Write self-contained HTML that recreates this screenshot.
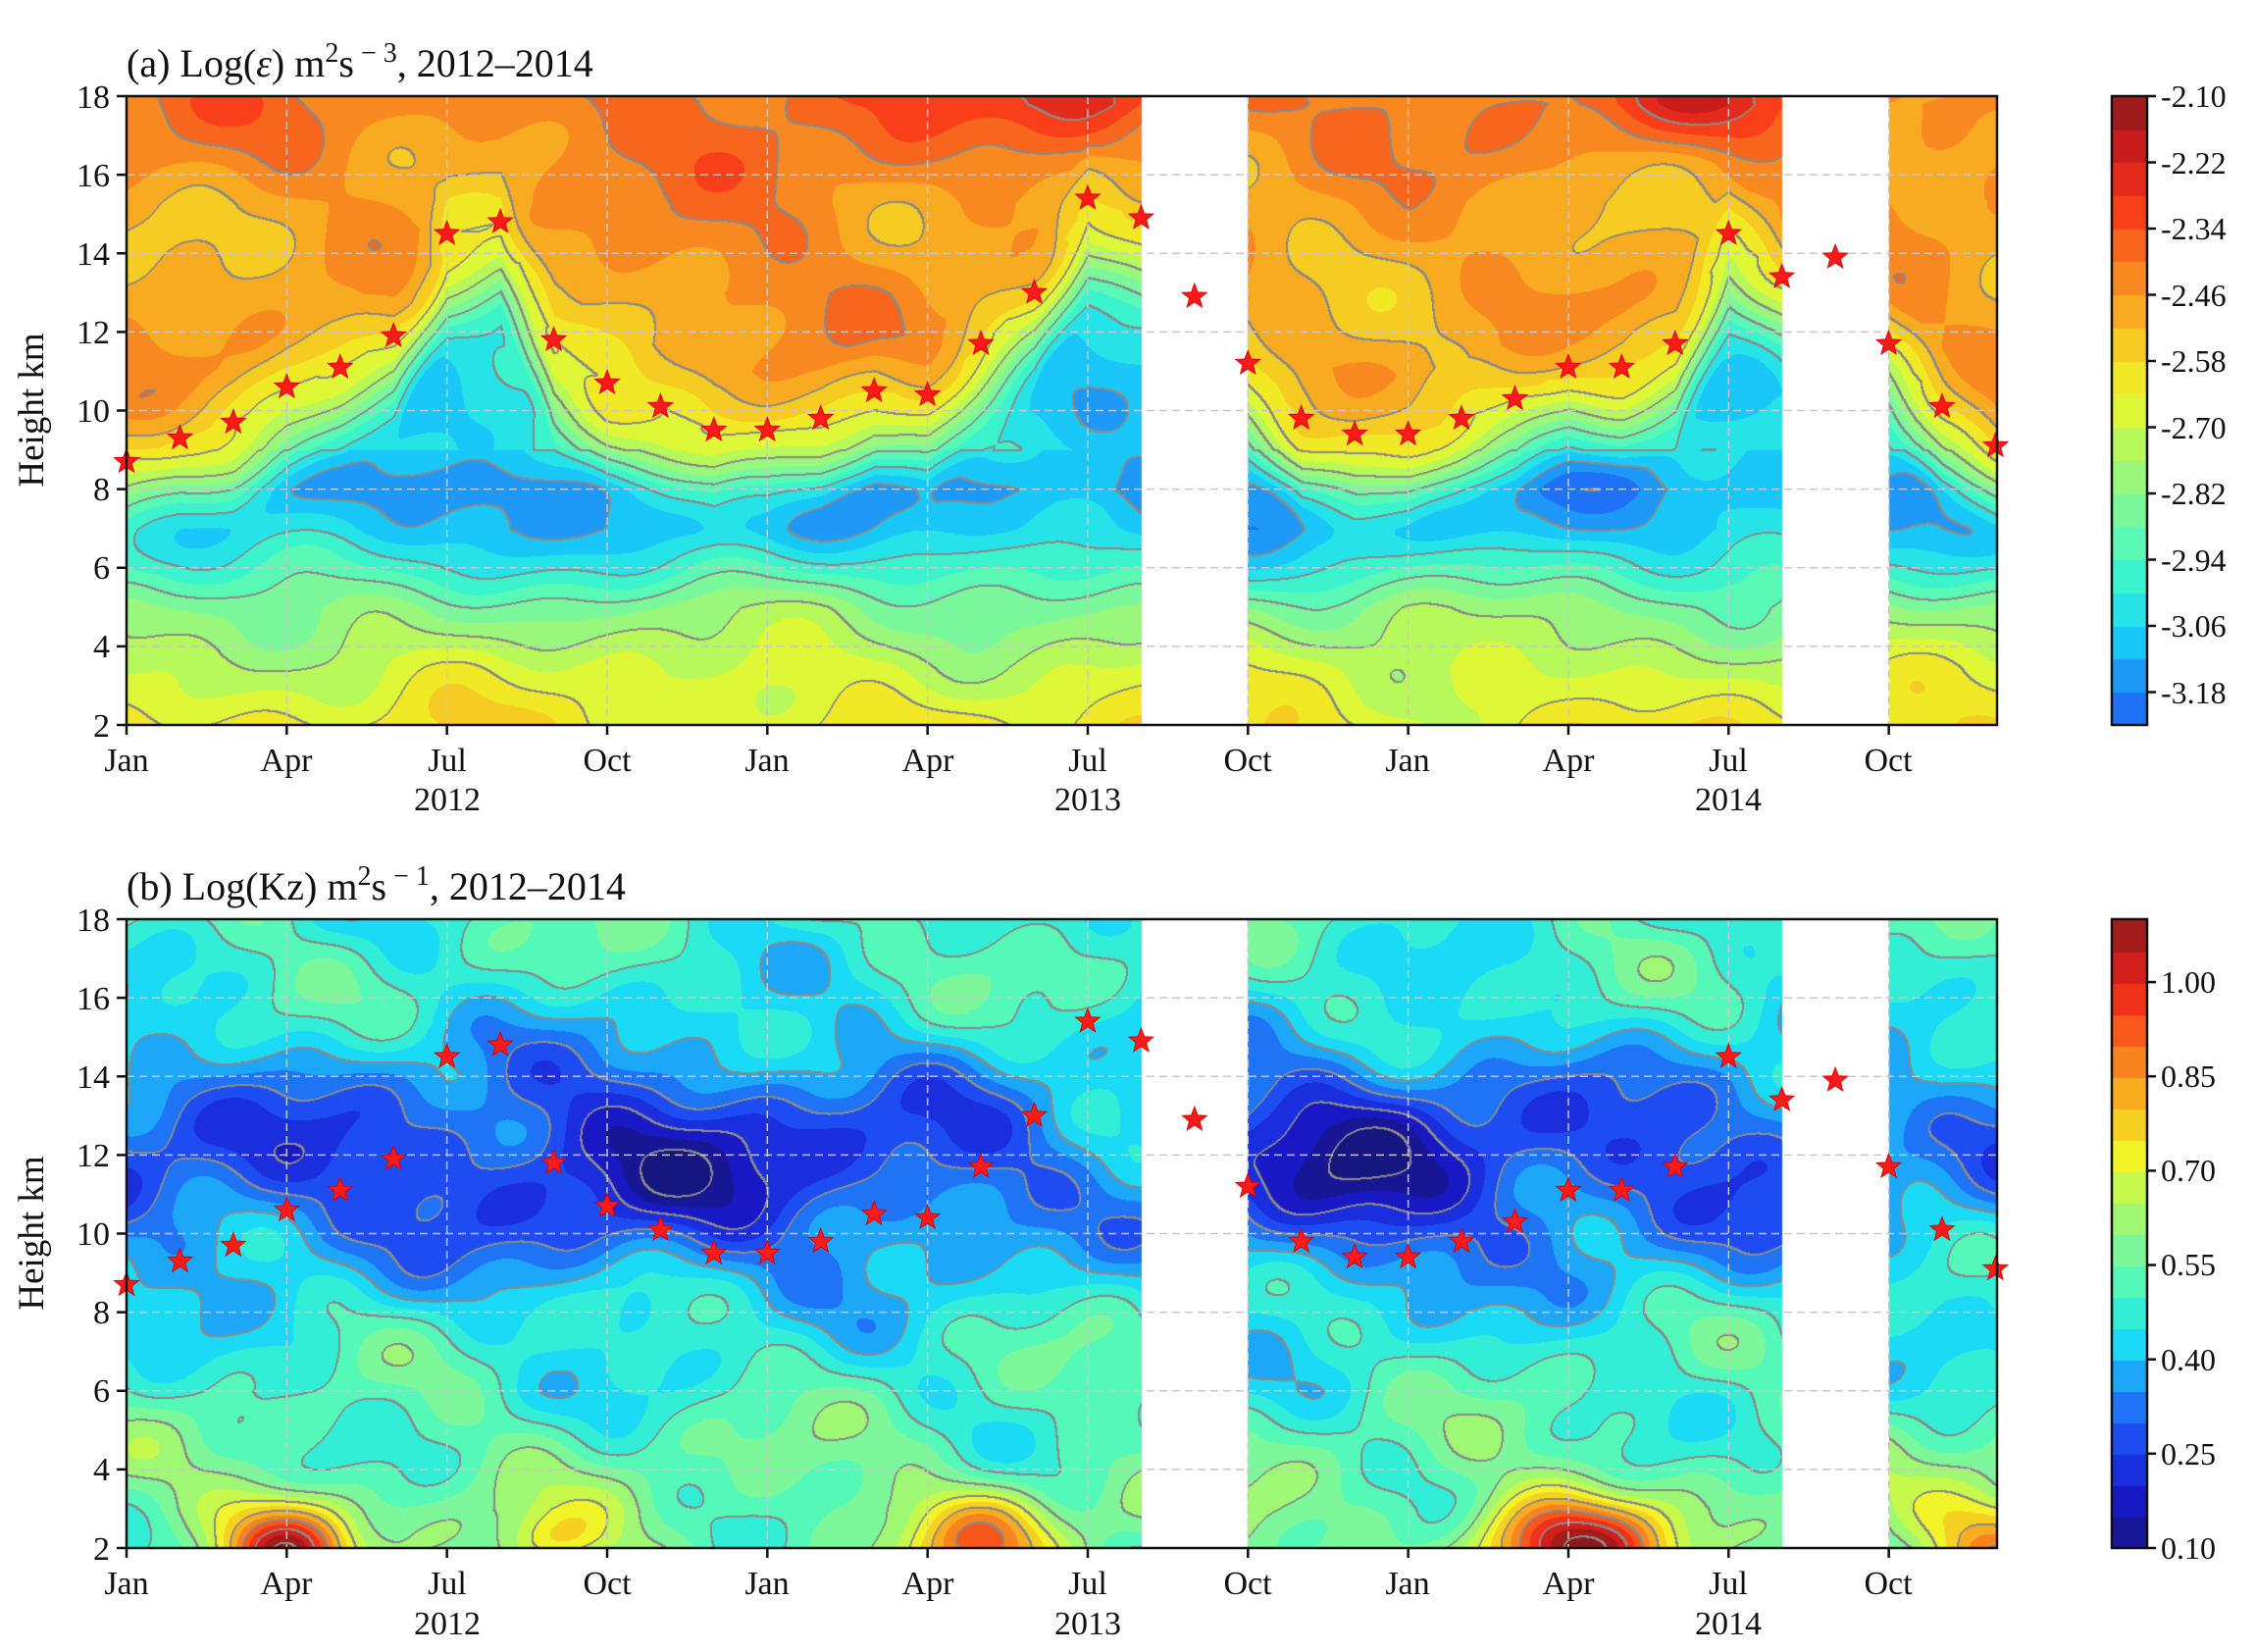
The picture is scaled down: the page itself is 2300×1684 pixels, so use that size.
<!DOCTYPE html>
<html><head><meta charset="utf-8">
<style>
html,body{margin:0;padding:0;background:#fff;}
#wrap{position:relative;width:2300px;height:1684px;overflow:hidden;background:#fff;}
canvas{position:absolute;}
svg{position:absolute;left:0;top:0;}
text{font-family:"Liberation Serif",serif;fill:#111;}
</style></head><body>
<div id="wrap">
<canvas id="ca" width="1907" height="641" style="left:129px;top:98px"></canvas>
<canvas id="cb" width="1907" height="641" style="left:129px;top:937px"></canvas>
<canvas id="bara" width="36" height="641" style="left:2153px;top:98px"></canvas>
<canvas id="barb" width="36" height="641" style="left:2153px;top:937px"></canvas>
<svg width="2300" height="1684" id="ov">
<g id="grid"></g>
<g id="stars"></g>
<g font-size="36">
<text x="129" y="78" font-size="40">(a)  Log(<tspan font-style="italic">ε</tspan>) m<tspan dy="-15" font-size="28">2</tspan><tspan dy="15">s</tspan><tspan dy="-15" font-size="28"> − 3</tspan><tspan dy="15">, 2012–2014</tspan></text>
<text x="129" y="917" font-size="40">(b)  Log(Kz) m<tspan dy="-15" font-size="28">2</tspan><tspan dy="15">s</tspan><tspan dy="-15" font-size="28"> − 1</tspan><tspan dy="15">, 2012–2014</tspan></text>
<text transform="translate(44,418) rotate(-90)" text-anchor="middle" font-size="37">Height km</text>
<text transform="translate(44,1257) rotate(-90)" text-anchor="middle" font-size="37">Height km</text>
</g>
<g font-size="34" text-anchor="end">
<text x="112" y="110">18</text><text x="112" y="190">16</text><text x="112" y="270">14</text><text x="112" y="350">12</text><text x="112" y="430">10</text><text x="112" y="510">8</text><text x="112" y="590">6</text><text x="112" y="670">4</text><text x="112" y="751">2</text>
<text x="112" y="949">18</text><text x="112" y="1029">16</text><text x="112" y="1109">14</text><text x="112" y="1189">12</text><text x="112" y="1269">10</text><text x="112" y="1349">8</text><text x="112" y="1429">6</text><text x="112" y="1509">4</text><text x="112" y="1590">2</text>
</g>
<g font-size="34" text-anchor="middle">
<text x="129" y="786">Jan</text><text x="292" y="786">Apr</text><text x="456" y="786">Jul</text><text x="619" y="786">Oct</text><text x="782" y="786">Jan</text><text x="946" y="786">Apr</text><text x="1109" y="786">Jul</text><text x="1272" y="786">Oct</text><text x="1435" y="786">Jan</text><text x="1599" y="786">Apr</text><text x="1762" y="786">Jul</text><text x="1925" y="786">Oct</text>
<text x="456" y="826">2012</text><text x="1109" y="826">2013</text><text x="1762" y="826">2014</text>
<text x="129" y="1625">Jan</text><text x="292" y="1625">Apr</text><text x="456" y="1625">Jul</text><text x="619" y="1625">Oct</text><text x="782" y="1625">Jan</text><text x="946" y="1625">Apr</text><text x="1109" y="1625">Jul</text><text x="1272" y="1625">Oct</text><text x="1435" y="1625">Jan</text><text x="1599" y="1625">Apr</text><text x="1762" y="1625">Jul</text><text x="1925" y="1625">Oct</text>
<text x="456" y="1666">2012</text><text x="1109" y="1666">2013</text><text x="1762" y="1666">2014</text>
</g>
<g font-size="32">
<text x="2203" y="109">-2.10</text><text x="2203" y="177">-2.22</text><text x="2203" y="244">-2.34</text><text x="2203" y="312">-2.46</text><text x="2203" y="379">-2.58</text><text x="2203" y="447">-2.70</text><text x="2203" y="514">-2.82</text><text x="2203" y="582">-2.94</text><text x="2203" y="649">-3.06</text><text x="2203" y="717">-3.18</text>
<text x="2203" y="1012">1.00</text><text x="2203" y="1108">0.85</text><text x="2203" y="1204">0.70</text><text x="2203" y="1300">0.55</text><text x="2203" y="1397">0.40</text><text x="2203" y="1493">0.25</text><text x="2203" y="1589">0.10</text>
</g>
<g id="frames" fill="none" stroke="#111" stroke-width="2.5"></g>
</svg>
</div>
<script>
var NS="http://www.w3.org/2000/svg";
function el(p,t,a){var e=document.createElementNS(NS,t);for(var k in a)e.setAttribute(k,a[k]);p.appendChild(e);return e;}
var X0=129,W=1907,H=641,MW=54.44;
var stops=[[0,[22,22,128]],[0.08,[24,24,200]],[0.16,[28,64,240]],[0.24,[32,128,248]],[0.32,[24,216,248]],[0.40,[64,248,200]],[0.48,[128,248,152]],[0.55,[176,248,96]],[0.62,[240,248,40]],[0.70,[248,192,32]],[0.78,[248,128,32]],[0.86,[248,56,24]],[0.93,[208,28,28]],[1,[139,26,26]]];
function cmap(t){t=Math.max(0,Math.min(1,t));for(var i=1;i<stops.length;i++){if(t<=stops[i][0]){var a=stops[i-1],b=stops[i],f=(t-a[0])/(b[0]-a[0]);return [a[1][0]+f*(b[1][0]-a[1][0]),a[1][1]+f*(b[1][1]-a[1][1]),a[1][2]+f*(b[1][2]-a[1][2])];}}return stops[stops.length-1][1];}
var T=[8.7,9.3,9.7,10.6,11.1,11.9,14.5,14.8,11.8,10.7,10.1,9.5,9.5,9.8,10.5,10.4,11.7,13.0,15.4,14.9,12.9,11.2,9.8,9.4,9.4,9.8,10.3,11.1,11.1,11.7,14.5,13.4,13.9,11.7,10.1,9.1];
function Tm(m){var i=Math.floor(m);if(i<0)return T[0];if(i>=35)return T[35];var f=m-i;return T[i]*(1-f)+T[i+1]*f;}
function cl(x){return x<0?0:x>1?1:x;}
function ss(x){x=cl(x);return x*x*(3-2*x);}
function noise(m,h){return 0.04*Math.sin(0.9*m+0.7*h)+0.03*Math.sin(0.5*m-1.1*h+1)+0.025*Math.sin(1.6*m+1.3*h+0.5)+0.015*Math.sin(2.3*m-1.9*h);}
var P=[[2,-2.62],[3.5,-2.7],[5,-2.82],[6,-2.97],[7,-3.1],[8,-3.16],[9,-3.08]];
function prof(h){if(h<=P[0][0])return P[0][1];for(var i=1;i<P.length;i++){if(h<=P[i][0]){var f=(h-P[i-1][0])/(P[i][0]-P[i-1][0]);return P[i-1][1]+f*(P[i][1]-P[i-1][1]);}}return -3.04;}
function fa(m,h){var t=Tm(m),n=noise(m,h),v;
 if(h>t){var d=h-t;v=-2.60+0.12*cl(d/1.5)+0.07*cl((h-15.3)/2.5)+0.14*Math.exp(-Math.pow((m-18.5)/2,2))*cl((h-16.3)/1.5)+0.14*Math.exp(-Math.pow((m-29.5)/2,2))*cl((h-16.3)/1.5)+0.05*Math.exp(-Math.pow((m-13)/4,2))*cl((h-11)/2);}
 else{var d2=t-h;v=-2.62+(prof(h)+2.62)*ss(d2/3);}
 return v+n;}
function fb(m,h){var n=noise(m*1.1+3,h*1.2+1)*1.2;
 var amp=0.23+0.1*Math.exp(-Math.pow((m-10)/3,2))+0.12*Math.exp(-Math.pow((m-23)/2.5,2))-0.1*Math.exp(-Math.pow((m-18.5)/2,2))-0.08*Math.exp(-Math.pow((m-34)/2,2));
 var B=Math.exp(-Math.pow((h-11.8)/3,2))*amp;
 var low=0.07*cl((6-h)/3);
 var bl=0.45*Math.exp(-Math.pow((m-3)/1.2,2)-Math.pow((h-2)/1.3,2))+0.28*Math.exp(-Math.pow((m-16)/1.4,2)-Math.pow((h-2.2)/1.3,2))+0.48*Math.exp(-Math.pow((m-27)/1.7,2)-Math.pow((h-2)/1.3,2))+0.28*Math.exp(-Math.pow((m-35)/1.3,2)-Math.pow((h-2)/1.6,2))+0.15*Math.exp(-Math.pow((m-8)/1,2)-Math.pow((h-2.2)/0.8,2));
 return 0.50+n-B+low+bl;}
function draw(id,f,vmin,vmax,t0,step){
 var c=document.getElementById(id),ctx=c.getContext('2d'),img=ctx.createImageData(W,H),d=img.data;
 var bins=new Int16Array(W*H);
 for(var y=0;y<H;y++){var h=18-y*16/H;for(var x=0;x<W;x++){var m=x/MW;var v=f(m,h);var b=Math.floor((v-vmin)/step);bins[y*W+x]=b;var vq=vmin+(b+0.5)*step;var t=t0+(1-t0)*(vq-vmin)/(vmax-vmin);var col=cmap(t);var k=(y*W+x)*4;d[k]=col[0];d[k+1]=col[1];d[k+2]=col[2];d[k+3]=255;}}
 for(var y=0;y<H-1;y++)for(var x=0;x<W-1;x++){var i=y*W+x;var a=Math.floor(bins[i]/2),r=Math.floor(bins[i+1]/2),dn=Math.floor(bins[i+W]/2);if(a!==r||a!==dn){for(var q=0;q<2;q++){var k=(i+q*W)*4;d[k]=138;d[k+1]=138;d[k+2]=138;k=(i+q)*4;d[k]=138;d[k+1]=138;d[k+2]=138;}}}
 for(var y=0;y<H;y++){for(var x=0;x<W;x++){var gx=x+X0;if((gx>1163&&gx<1272)||(gx>1816&&gx<1926)){var k=(y*W+x)*4;d[k]=d[k+1]=d[k+2]=255;}}}
 ctx.putImageData(img,0,0);}
draw('ca',fa,-3.24,-2.10,0.2,0.06);
draw('cb',fb,0.10,1.10,0,0.05);
function bar(id,vmin,vmax,t0,n){var c=document.getElementById(id),ctx=c.getContext('2d');for(var i=0;i<n;i++){var vq=vmin+(i+0.5)*(vmax-vmin)/n;var t=t0+(1-t0)*(vq-vmin)/(vmax-vmin);var col=cmap(t);ctx.fillStyle='rgb('+Math.round(col[0])+','+Math.round(col[1])+','+Math.round(col[2])+')';var y1=H-(i+1)*H/n,y0=H-i*H/n;ctx.fillRect(0,Math.floor(y1),36,Math.ceil(y0-y1)+1);}}
bar('bara',-3.24,-2.10,0.2,19);bar('barb',0.10,1.10,0,20);
var g=document.getElementById('grid'),fr=document.getElementById('frames'),st=document.getElementById('stars');
[98,937].forEach(function(top){
 for(var k=1;k<8;k++){var y=top+k*H/8;el(g,'line',{x1:X0,x2:X0+W,y1:y,y2:y,stroke:'#c8c8c8','stroke-width':1.5,'stroke-dasharray':'8,5'});}
 for(var q=1;q<12;q++){var x=X0+q*163.33;el(g,'line',{x1:x,x2:x,y1:top,y2:top+H,stroke:'#c8c8c8','stroke-width':1.5,'stroke-dasharray':'8,5'});}
 el(fr,'rect',{x:X0,y:top,width:W,height:H});
 el(fr,'rect',{x:2153,y:top,width:36,height:H});
 for(var k=0;k<=8;k++){var y=top+k*H/8;el(fr,'line',{x1:X0-10,x2:X0,y1:y,y2:y});}
 for(var q=0;q<12;q++){var x=X0+q*163.33;el(fr,'line',{x1:x,x2:x,y1:top+H,y2:top+H+10});}
 for(var i=0;i<36;i++){var cx=X0+i*MW,h=T[i],cy=top+(18-h)*H/16,pts=[];for(var j=0;j<10;j++){var r=j%2?5.5:13,a=-Math.PI/2+j*Math.PI/5;pts.push((cx+r*Math.cos(a)).toFixed(1)+','+(cy+r*Math.sin(a)).toFixed(1));}el(st,'polygon',{points:pts.join(' '),fill:'#ff1a1a',stroke:'#d00','stroke-width':1});}
});
[98,165.5,233,300.5,368,435.5,503,570.5,638,705.5].forEach(function(y){el(fr,'line',{x1:2189,x2:2198,y1:y,y2:y});});
[1001.1,1097.2,1193.4,1289.5,1385.7,1481.8,1578].forEach(function(y){el(fr,'line',{x1:2189,x2:2198,y1:y,y2:y});});
</script>
</body></html>
